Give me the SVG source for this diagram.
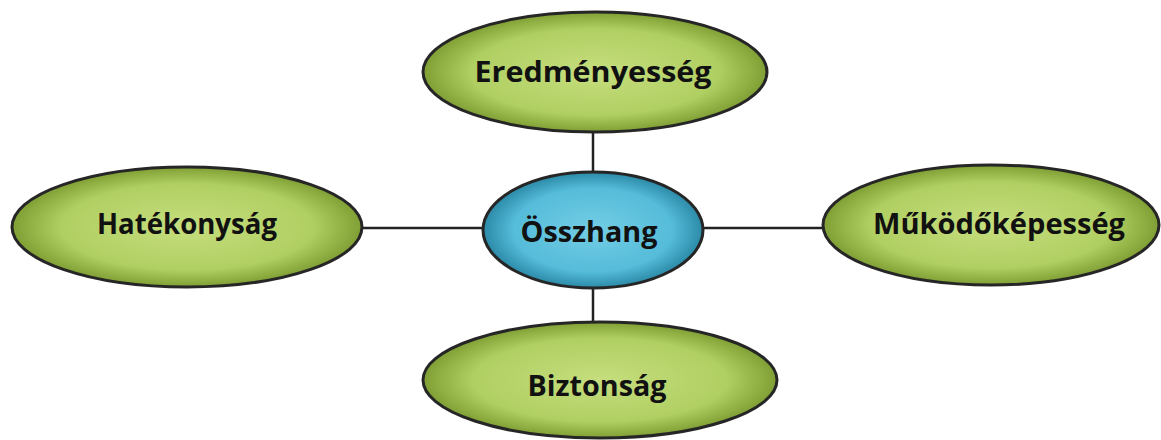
<svg xmlns="http://www.w3.org/2000/svg" width="1161" height="440" viewBox="0 0 1161 440">
  <defs>
    <radialGradient id="gGreen" cx="50%" cy="50%" r="50%">
      <stop offset="0" stop-color="#c6de7e"/>
      <stop offset="0.72" stop-color="#b0cf62"/>
      <stop offset="1" stop-color="#7f9f34"/>
    </radialGradient>
    <radialGradient id="gBlue" cx="50%" cy="50%" r="50%">
      <stop offset="0" stop-color="#74cde5"/>
      <stop offset="0.72" stop-color="#55bcd9"/>
      <stop offset="1" stop-color="#2b8aa8"/>
    </radialGradient>
  </defs>
  <style>
    .link { stroke: #222; stroke-width: 2.5; fill: none; }
    .node ellipse { stroke: #262626; stroke-width: 3; }
    .green { fill: url(#gGreen); }
    .blue { fill: url(#gBlue); }
    .label { font-family: "Open Sans", "Noto Sans", sans-serif; font-weight: bold; font-size: 29px; fill: #111; text-anchor: middle; }
  </style>
  <rect width="1161" height="440" fill="#fff"/>

  <g id="connectors">
    <line class="link" x1="593" y1="131" x2="593" y2="173"/>
    <line class="link" x1="593" y1="288" x2="593" y2="323"/>
    <line class="link" x1="362" y1="228" x2="484" y2="228"/>
    <line class="link" x1="702" y1="228" x2="824" y2="228"/>
  </g>

  <g id="node-eredmenyesseg" class="node">
    <ellipse class="green" cx="595" cy="72" rx="172" ry="60"/>
    <text class="label" x="593" y="82" textLength="237" lengthAdjust="spacingAndGlyphs">Eredményesség</text>
  </g>

  <g id="node-hatekonysag" class="node">
    <ellipse class="green" cx="187" cy="227" rx="175" ry="60"/>
    <text class="label" x="187" y="234" textLength="180" lengthAdjust="spacingAndGlyphs">Hatékonyság</text>
  </g>

  <g id="node-osszhang" class="node">
    <ellipse class="blue" cx="593" cy="230" rx="110" ry="58"/>
    <text class="label" x="589" y="242" textLength="137" lengthAdjust="spacingAndGlyphs">Összhang</text>
  </g>

  <g id="node-mukodokepesseg" class="node">
    <ellipse class="green" cx="991" cy="225" rx="168" ry="60"/>
    <text class="label" x="999" y="234" textLength="252" lengthAdjust="spacingAndGlyphs">Működőképesség</text>
  </g>

  <g id="node-biztonsag" class="node">
    <ellipse class="green" cx="600" cy="380" rx="177" ry="58"/>
    <text class="label" x="597" y="396" textLength="139" lengthAdjust="spacingAndGlyphs">Biztonság</text>
  </g>
</svg>
